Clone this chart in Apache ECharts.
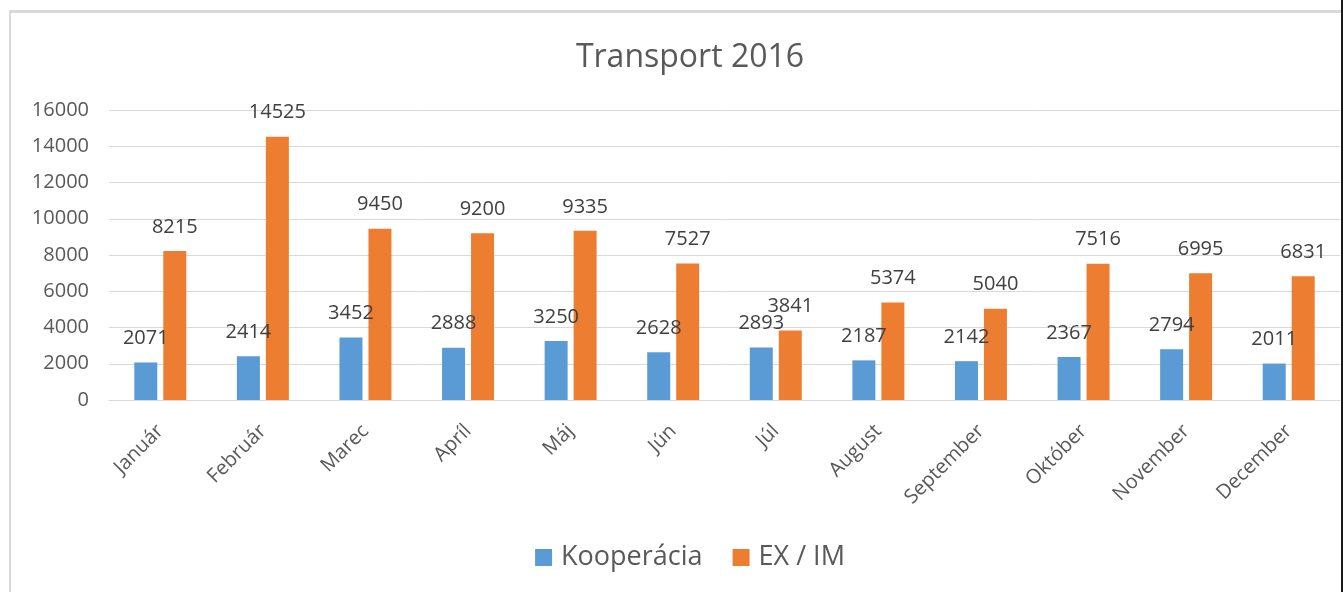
<!DOCTYPE html>
<html>
<head>
<meta charset="utf-8">
<script src="https://cdn.jsdelivr.net/npm/echarts@6/dist/echarts.min.js"></script>
<style>
  html, body { margin: 0; padding: 0; background: #fff; overflow: hidden; }
  #frame { position: absolute; left: 9px; top: 10px; width: 1400px; height: 600px;
           border-left: 2px solid #d9d9d9; border-top: 3px solid #d9d9d9; }
  #main { position: absolute; left: 0; top: 0; width: 1380px; height: 592px; }
  #edge { position: absolute; left: 1341px; top: 0; width: 2px; height: 592px; background: #1a1a1a; }
</style>
</head>
<body>
<div id="frame"></div>
<div id="main"></div>
<div id="edge"></div>
<script>
// mesiace
const months = ['Január', 'Február', 'Marec', 'Apríl', 'Máj', 'Jún', 'Júl',
                'August', 'September', 'Október', 'November', 'December'];
const kooperacia = [2071, 2414, 3452, 2888, 3250, 2628, 2893, 2187, 2142, 2367, 2794, 2011];
const exim = [8215, 14525, 9450, 9200, 9335, 7527, 3841, 5374, 5040, 7516, 6995, 6831];

const font = '"Open Sans", "Noto Sans", sans-serif';

let chart = echarts.init(document.getElementById('main'));

const labelStyle = {
    show: true,
    position: 'top',
    distance: 14,
    color: '#404040',
    fontSize: 20,
    fontFamily: font
};

chart.setOption({
    animation: false,
    title: {
        text: 'Transport 2016',
        left: 'center',
        top: 37,
        textStyle: { color: '#595959', fontSize: 32, fontWeight: 'normal', fontFamily: font }
    },
    legend: {
        bottom: 16,
        left: 'center',
        itemWidth: 17,
        itemHeight: 17,
        itemGap: 30,
        icon: 'rect',
        textStyle: { color: '#595959', fontSize: 27, fontFamily: font, padding: [0, 0, 0, 4] }
    },
    grid: { left: 109, right: 40, top: 110, bottom: 192 },
    xAxis: {
        type: 'category',
        data: months,
        axisLine: { lineStyle: { color: '#d9d9d9', width: 1 } },
        axisTick: { show: false },
        axisLabel: { rotate: 45, margin: 28, color: '#595959', fontSize: 20, fontFamily: font }
    },
    yAxis: {
        type: 'value',
        min: 0,
        max: 16000,
        interval: 2000,
        axisLine: { show: false },
        axisTick: { show: false },
        splitLine: { lineStyle: { color: '#d9d9d9' } },
        axisLabel: { margin: 20, color: '#595959', fontSize: 20, fontFamily: font,
                     formatter: v => String(v) }
    },
    series: [
        {
            name: 'Kooperácia',
            type: 'bar',
            data: kooperacia,
            barWidth: 23,
            barGap: '26%',
            itemStyle: { color: '#5B9BD5' },
            label: labelStyle
        },
        {
            name: 'EX / IM',
            type: 'bar',
            data: exim,
            barWidth: 23,
            itemStyle: { color: '#ED7D31' },
            label: labelStyle
        }
    ]
});
</script>
</body>
</html>
